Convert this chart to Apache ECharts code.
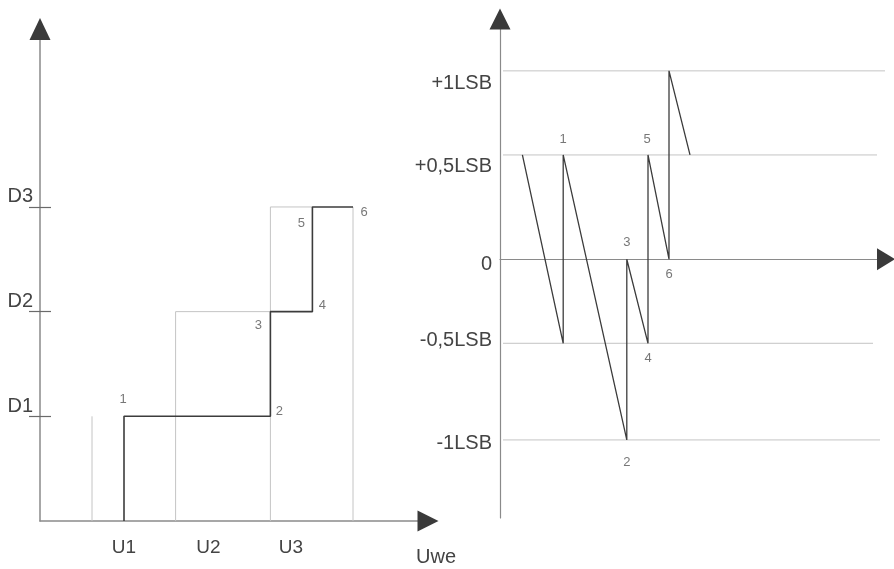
<!DOCTYPE html>
<html>
<head>
<meta charset="utf-8">
<script src="https://cdn.jsdelivr.net/npm/echarts@6/dist/echarts.min.js"></script>
<style>
  html, body { margin: 0; padding: 0; background: #ffffff; }
  #chart { width: 894px; height: 569px; }
</style>
</head>
<body>
<div id="chart"></div>
<script>
// ---------- DATA ----------
// Left: ADC transfer characteristic (x in input units, y in code levels)
const dValues = [1, 2, 3];
const dLabels = ['D1', 'D2', 'D3'];
const uValues = [21, 42.1, 62.75];
const uLabels = ['U1', 'U2', 'U3'];
const stepX = [21, 57.6, 68.1];        // real transitions to D1, D2, D3
const stepEndX = 78.25;                // end of code D3
const idealVertX = [13, 33.9, 57.6, 78.25];   // thin reference verticals
const idealVertTop = [1, 2, 3, 3];
const idealFlatLevel = [2, 3];
const idealFlatFrom = [33.9, 57.6];
const idealFlatTo = [57.6, 68.1];

// Right: quantisation error (x in input units, y in LSB)
const lsbValues = [0.966, 0.512, -0.031, -0.447, -1.015];   // where the tick labels sit
const lsbLabels = ['+1LSB', '+0,5LSB', '0', '-0,5LSB', '-1LSB'];
const refLevels = [1.035, 0.573, -0.462, -0.993];
const refEndX = [96.25, 94.25, 93.25, 95];
const errX = [5.6, 15.8, 15.8, 31.7, 31.7, 37, 37, 42.25, 42.25, 47.5];
const errY = [0.573, -0.462, 0.573, -0.993, 0, -0.462, 0.573, 0, 1.035, 0.573];

const numLabels = ['1', '2', '3', '4', '5', '6'];

// ---------- styling ----------
const FONT = '"Liberation Sans", Arial, Helvetica, sans-serif';
const TXT = '#444444';
const AXIS = '#8a8a8a';
const ARROW = '#3a3a3a';
const DARK = '#3c3c3c';
const LIGHT = '#c4c4c4';
const leftNumOffsets = [[-1, -17], [9, -5], [-12, 14], [10, -6], [-11, 16], [11, 5]];
const rightNumOffsets = [[0, -16], [0, 22], [0, -17], [0, 15], [-1, -16], [0, 15]];

function nearestLabel(vals, labels, v) {
  let best = 0;
  for (let i = 1; i < vals.length; i++) {
    if (Math.abs(vals[i] - v) < Math.abs(vals[best] - v)) best = i;
  }
  return labels[best];
}

// build step polyline
const stepPts = [[stepX[0], 0]];
for (let i = 0; i < stepX.length; i++) {
  const lvl = dValues[i];
  const nextX = i + 1 < stepX.length ? stepX[i + 1] : stepEndX;
  stepPts.push([stepX[i], lvl]);
  stepPts.push([nextX, lvl]);
}
const errPts = errX.map((x, i) => [x, errY[i]]);

const series = [];
// thin ideal lines (left)
idealVertX.forEach((x, i) => {
  series.push({ type: 'line', xAxisIndex: 0, yAxisIndex: 0, silent: true, symbol: 'none',
    lineStyle: { color: LIGHT, width: 1 }, z: 1,
    data: [[x, 0], [x, idealVertTop[i]]] });
});
idealFlatLevel.forEach((lvl, i) => {
  series.push({ type: 'line', xAxisIndex: 0, yAxisIndex: 0, silent: true, symbol: 'none',
    lineStyle: { color: LIGHT, width: 1 }, z: 1,
    data: [[idealFlatFrom[i], lvl], [idealFlatTo[i], lvl]] });
});
// dark step line
series.push({ type: 'line', xAxisIndex: 0, yAxisIndex: 0, silent: true, symbol: 'none',
  lineStyle: { color: DARK, width: 1.6 }, z: 3, data: stepPts });
// point numbers (left)
series.push({ type: 'scatter', xAxisIndex: 0, yAxisIndex: 0, silent: true, symbolSize: 1,
  itemStyle: { color: 'transparent' }, z: 4,
  data: stepPts.slice(1).map((p, i) => ({
    value: p,
    label: { show: true, position: 'inside', formatter: numLabels[i], offset: leftNumOffsets[i],
      fontSize: 13, color: '#555', fontFamily: FONT }
  })) });
// reference levels (right)
refLevels.forEach((v, i) => {
  series.push({ type: 'line', xAxisIndex: 2, yAxisIndex: 2, silent: true, symbol: 'none',
    lineStyle: { color: LIGHT, width: 1 }, z: 1,
    data: [[0.75, v], [refEndX[i], v]] });
});
// sawtooth error line
series.push({ type: 'line', xAxisIndex: 2, yAxisIndex: 2, silent: true, symbol: 'none',
  lineStyle: { color: DARK, width: 1.3 }, z: 3, data: errPts });
// point numbers (right)
series.push({ type: 'scatter', xAxisIndex: 2, yAxisIndex: 2, silent: true, symbolSize: 1,
  itemStyle: { color: 'transparent' }, z: 4,
  data: errPts.slice(2, 8).map((p, i) => ({
    value: p,
    label: { show: true, position: 'inside', formatter: numLabels[i], offset: rightNumOffsets[i],
      fontSize: 13, color: '#555', fontFamily: FONT }
  })) });

const noTick = { show: false };
const noLabel = { show: false };
const noSplit = { show: false };

const option = {
  animation: false,
  backgroundColor: '#ffffff',
  textStyle: { fontFamily: FONT },
  grid: [
    { left: 40, top: 29, right: 466, bottom: 48, containLabel: false },
    { left: 500, top: 19, right: 8, bottom: 51, containLabel: false }
  ],
  xAxis: [
    { gridIndex: 0, type: 'value', min: 0, max: 97, position: 'bottom',
      axisLine: { show: true, symbol: 'none', lineStyle: { color: AXIS, width: 1.5 } },
      axisTick: noTick, splitLine: noSplit,
      axisLabel: { show: true, customValues: uValues, margin: 17, fontSize: 19, color: TXT,
        formatter: v => nearestLabel(uValues, uLabels, v) },
      name: 'Uwe', nameLocation: 'end', nameGap: 8,
      nameTextStyle: { fontSize: 20, color: TXT, align: 'center', verticalAlign: 'top',
        padding: [26, 0, 0, 0] } },
    { gridIndex: 0, type: 'value', min: 0, max: 97, position: 'bottom',
      axisLine: { show: true, symbol: ['none', 'triangle'], symbolSize: [21, 21],
        lineStyle: { color: ARROW, width: 0 } },
      axisTick: noTick, axisLabel: noLabel, splitLine: noSplit },
    { gridIndex: 1, type: 'value', min: 0, max: 96.5, position: 'bottom',
      axisLine: { show: true, onZero: true, symbol: 'none', lineStyle: { color: AXIS, width: 1.2 } },
      axisTick: noTick, axisLabel: noLabel, splitLine: noSplit },
    { gridIndex: 1, type: 'value', min: 0, max: 96.5, position: 'bottom',
      axisLine: { show: true, onZero: true, symbol: ['none', 'triangle'], symbolSize: [22, 18],
        lineStyle: { color: ARROW, width: 0 } },
      axisTick: noTick, axisLabel: noLabel, splitLine: noSplit }
  ],
  yAxis: [
    { gridIndex: 0, type: 'value', min: 0, max: 4.7, position: 'left',
      axisLine: { show: true, symbol: 'none', lineStyle: { color: AXIS, width: 1.5 } },
      axisTick: { show: true, customValues: dValues, inside: false, length: 11,
        lineStyle: { color: '#6a6a6a', width: 1.2 } },
      axisLabel: { show: true, customValues: dValues, margin: 7, fontSize: 20, color: TXT,
        verticalAlign: 'bottom', formatter: v => nearestLabel(dValues, dLabels, v) },
      splitLine: noSplit },
    { gridIndex: 0, type: 'value', min: 0, max: 4.7, position: 'left',
      axisLine: { show: true, symbol: ['none', 'triangle'], symbolSize: [21, 22],
        lineStyle: { color: ARROW, width: 0 } },
      axisTick: { show: true, customValues: dValues, inside: true, length: 11,
        lineStyle: { color: '#6a6a6a', width: 1.2 } },
      axisLabel: noLabel, splitLine: noSplit },
    { gridIndex: 1, type: 'value', min: -1.422, max: 1.32, position: 'left',
      axisLine: { show: true, onZero: true, symbol: 'none', lineStyle: { color: AXIS, width: 1.2 } },
      axisTick: noTick, splitLine: noSplit,
      axisLabel: { show: true, customValues: lsbValues, margin: 8, fontSize: 20, color: TXT,
        formatter: v => nearestLabel(lsbValues, lsbLabels, v) } },
    { gridIndex: 1, type: 'value', min: -1.422, max: 1.32, position: 'left',
      axisLine: { show: true, onZero: true, symbol: ['none', 'triangle'], symbolSize: [21, 21],
        lineStyle: { color: ARROW, width: 0 } },
      axisTick: noTick, axisLabel: noLabel, splitLine: noSplit }
  ],
  series: series
};

const chart = echarts.init(document.getElementById('chart'), null, { renderer: 'canvas' });
chart.setOption(option);
</script>
</body>
</html>
